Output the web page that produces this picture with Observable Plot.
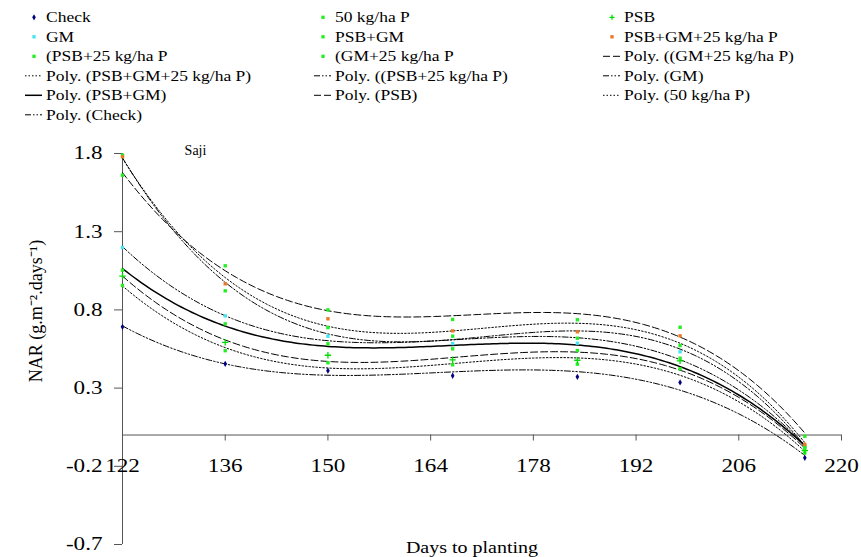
<!DOCTYPE html>
<html><head><meta charset="utf-8">
<script src="https://cdn.jsdelivr.net/npm/d3@7"></script>
<script src="https://cdn.jsdelivr.net/npm/@observablehq/plot@0.6"></script>
<style>
body{margin:0;background:#fff;width:861px;height:557px;overflow:hidden;font-family:"Liberation Serif",serif;}
svg{display:block}
</style></head><body>
<div id="chart"></div>
<script>
// ---- data ----
const days = [122, 136, 150, 167, 184, 198, 215];
const check   = [0.692, 0.455, 0.411, 0.379, 0.372, 0.336, -0.146];
const p50     = [0.956, 0.539, 0.462, 0.449, 0.453, 0.423, -0.115];
const psb     = [1.016, 0.592, 0.510, 0.481, 0.478, 0.474, -0.100];
const gm      = [1.199, 0.762, 0.632, 0.585, 0.587, 0.532, -0.080];
const psbGm   = [1.054, 0.711, 0.583, 0.551, 0.540, 0.491, -0.085];
const psbGm25 = [1.779, 0.967, 0.743, 0.666, 0.660, 0.634, -0.060];
const psb25   = [1.790, 0.922, 0.687, 0.632, 0.619, 0.572, -0.070];
const gm25    = [1.661, 1.082, 0.800, 0.739, 0.737, 0.689, -0.008];

const xTicks = [122, 136, 150, 164, 178, 192, 206, 220];
const yTicks = [-0.7, -0.2, 0.3, 0.8, 1.3, 1.8];

const dash = {solid: null, dashed: "7,3", dotted: "1.5,2", dashdotdot: "6,2,1.5,2,1.5,2"};

// series: name, values, marker colour, marker symbol, trend style
const series = [
  {name: "Check", values: check, color: "#000080", symbol: "diamond", line: "dashdotdot"},
  {name: "50 kg/ha P", values: p50, color: "#22ee22", symbol: "square", line: "dotted"},
  {name: "PSB", values: psb, color: "#00dd00", symbol: "plus", line: "dashed"},
  {name: "GM", values: gm, color: "#44e4f0", symbol: "square", line: "dashdotdot"},
  {name: "PSB+GM", values: psbGm, color: "#22ee22", symbol: "square", line: "solid"},
  {name: "(PSB+25 kg/ha P", values: psb25, color: "#22ee22", symbol: "square", line: "dashdotdot"},
  {name: "PSB+GM+25 kg/ha P", values: psbGm25, color: "#ee7722", symbol: "square", line: "dotted"},
  {name: "(GM+25 kg/ha P", values: gm25, color: "#22ee22", symbol: "square", line: "dashed"}
];

const legendItems = [
  {label: "Check", s: "Check"},
  {label: "50 kg/ha P", s: "50 kg/ha P"},
  {label: "PSB", s: "PSB"},
  {label: "GM", s: "GM"},
  {label: "PSB+GM", s: "PSB+GM"},
  {label: "PSB+GM+25 kg/ha P", s: "PSB+GM+25 kg/ha P"},
  {label: "(PSB+25 kg/ha P", s: "(PSB+25 kg/ha P"},
  {label: "(GM+25 kg/ha P", s: "(GM+25 kg/ha P"},
  {label: "Poly. ((GM+25 kg/ha P)", line: "dashed"},
  {label: "Poly. (PSB+GM+25 kg/ha P)", line: "dotted"},
  {label: "Poly. ((PSB+25 kg/ha P)", line: "dashdotdot"},
  {label: "Poly. (GM)", line: "dashdotdot"},
  {label: "Poly. (PSB+GM)", line: "solid"},
  {label: "Poly. (PSB)", line: "dashed"},
  {label: "Poly. (50 kg/ha P)", line: "dotted"},
  {label: "Poly. (Check)", line: "dashdotdot"}
];

// ---- cubic least-squares trend (Excel "Poly." trendline) ----
function polyFit(xs, ys, deg) {
  const n = deg + 1, A = Array.from({length: n}, () => Array(n + 1).fill(0));
  const T = x => (x - 168) / 50;
  xs.forEach((x, k) => {
    const t = T(x);
    for (let i = 0; i < n; i++) {
      for (let j = 0; j < n; j++) A[i][j] += Math.pow(t, i + j);
      A[i][n] += ys[k] * Math.pow(t, i);
    }
  });
  for (let c = 0; c < n; c++) {
    let p = c;
    for (let r = c + 1; r < n; r++) if (Math.abs(A[r][c]) > Math.abs(A[p][c])) p = r;
    [A[c], A[p]] = [A[p], A[c]];
    for (let r = 0; r < n; r++) {
      if (r === c) continue;
      const f = A[r][c] / A[c][c];
      for (let j = c; j <= n; j++) A[r][j] -= f * A[c][j];
    }
  }
  const coef = A.map((row, i) => row[n] / row[i]);
  return x => coef.reduce((s, c, i) => s + c * Math.pow(T(x), i), 0);
}

const grid = d3.range(days[0], days[days.length - 1] + 0.001, 0.5);

// ---- layout ----
const W = 861, LEGEND_H = 130, H = 557 - LEGEND_H;
const mTop = 23, mBottom = 13, mLeft = 122, mRight = 20;
const yDomain = [-0.7, 1.8];
const yPix = d3.scaleLinear(yDomain, [H - mBottom, mTop]);
const xAxisShift = yPix(0) - (H - mBottom);
const STRETCH = 1.25; // the reference's text is horizontally stretched

// ---- legend (above the plot) ----
const legend = d3.create("svg").attr("width", W).attr("height", LEGEND_H)
  .attr("font-family", "Liberation Serif").attr("font-size", 14);
const colText = [46, 335, 624];
legendItems.forEach((it, i) => {
  const col = i % 3, row = Math.floor(i / 3);
  const tx = colText[col], cy = 17.3 + row * 19.5;
  if (it.s) {
    const s = series.find(d => d.name === it.s);
    if (s.symbol === "plus") {
      legend.append("path").attr("d", "M-2.5,0H2.5M0,-2.5V2.5").attr("stroke", s.color).attr("stroke-width", 1.3)
        .attr("transform", `translate(${tx - 12},${cy})`);
    } else {
      const sym = s.symbol === "diamond" ? d3.symbolDiamond : d3.symbolSquare;
      legend.append("path").attr("d", d3.symbol(sym, 11)()).attr("fill", s.color)
        .attr("transform", `translate(${tx - 12},${cy})`);
    }
  } else {
    const l = legend.append("line").attr("x1", tx - 21).attr("x2", tx - 4).attr("y1", cy).attr("y2", cy)
      .attr("stroke", "#000").attr("stroke-width", it.line === "solid" ? 1.5 : 1);
    if (dash[it.line]) l.attr("stroke-dasharray", dash[it.line]);
  }
  legend.append("text").attr("transform", `translate(${tx},${cy}) scale(${STRETCH},1)`)
    .attr("dy", "0.35em").attr("fill", "#000").text(it.label);
});

// ---- plot ----
const marks = [
  Plot.ruleX([122], {stroke: "#555"}),
  Plot.ruleY([0], {stroke: "#555"}),
  Plot.axisY({ticks: yTicks, tickFormat: d => d.toFixed(1), tickSize: 8, tickPadding: 12, stroke: "#555", label: null, fontSize: 18.5}),
  Plot.axisX({anchor: "bottom", ticks: xTicks, tickSize: 6, tickPadding: 18, dy: xAxisShift, stroke: "#555", label: null, fontSize: 18.5}),
  Plot.text(["NAR (g.m\u207B\u00B2.days\u207B\u00B9)"], {frameAnchor: "left", textAnchor: "middle", lineAnchor: "middle", rotate: -90, dx: -86, dy: -38, fontSize: 18, text: d => d}),
  Plot.text(["Days to planting"], {frameAnchor: "bottom", textAnchor: "middle", dx: -10, dy: 3, lineAnchor: "middle", fontSize: 16, text: d => d, ariaLabel: () => "xlabel"}),
  Plot.text(["Saji"], {frameAnchor: "top-left", textAnchor: "middle", dx: 73, dy: -3, lineAnchor: "middle", fontSize: 14, text: d => d})
];
series.forEach(s => {
  const f = polyFit(days, s.values, 3);
  const curve = grid.map(d => ({day: d, nar: f(d)}));
  marks.push(Plot.line(curve, {x: "day", y: "nar", stroke: "#000",
    strokeWidth: s.line === "solid" ? 1.5 : 1, strokeDasharray: dash[s.line], clip: true}));
});
series.forEach(s => {
  const pts = days.map((d, i) => ({day: d, nar: s.values[i]}));
  if (s.symbol === "plus") {
    marks.push(Plot.dot(pts, {x: "day", y: "nar", symbol: "plus", stroke: s.color, r: 2.2, strokeWidth: 1.3}));
  } else {
    marks.push(Plot.dot(pts, {x: "day", y: "nar", symbol: s.symbol, fill: s.color, r: 1.9}));
  }
});

const chart = Plot.plot({
  width: W, height: H,
  marginTop: mTop, marginBottom: mBottom, marginLeft: mLeft, marginRight: mRight,
  style: {fontFamily: "Liberation Serif", fontSize: "17px", color: "#000", background: "#fff", overflow: "visible"},
  x: {domain: [122, 220]},
  y: {domain: yDomain},
  marks
});

// stretch text horizontally like the reference (only the x position is folded into the transform)
function stretch(t, k) {
  const xa = t.getAttribute("x");
  const x = xa && !isNaN(+xa) ? +xa : 0;
  if (xa && !isNaN(+xa)) t.removeAttribute("x");
  const tr = t.getAttribute("transform") || "";
  t.setAttribute("transform", `${tr} translate(${x},0) scale(${k},1)`);
}
chart.querySelectorAll('g[aria-label="x-axis tick label"] text, g[aria-label="y-axis tick label"] text, text[aria-label="xlabel"]')
  .forEach(t => stretch(t, STRETCH));

const root = document.getElementById("chart");
root.appendChild(legend.node());
root.appendChild(chart);
</script>
</body></html>
